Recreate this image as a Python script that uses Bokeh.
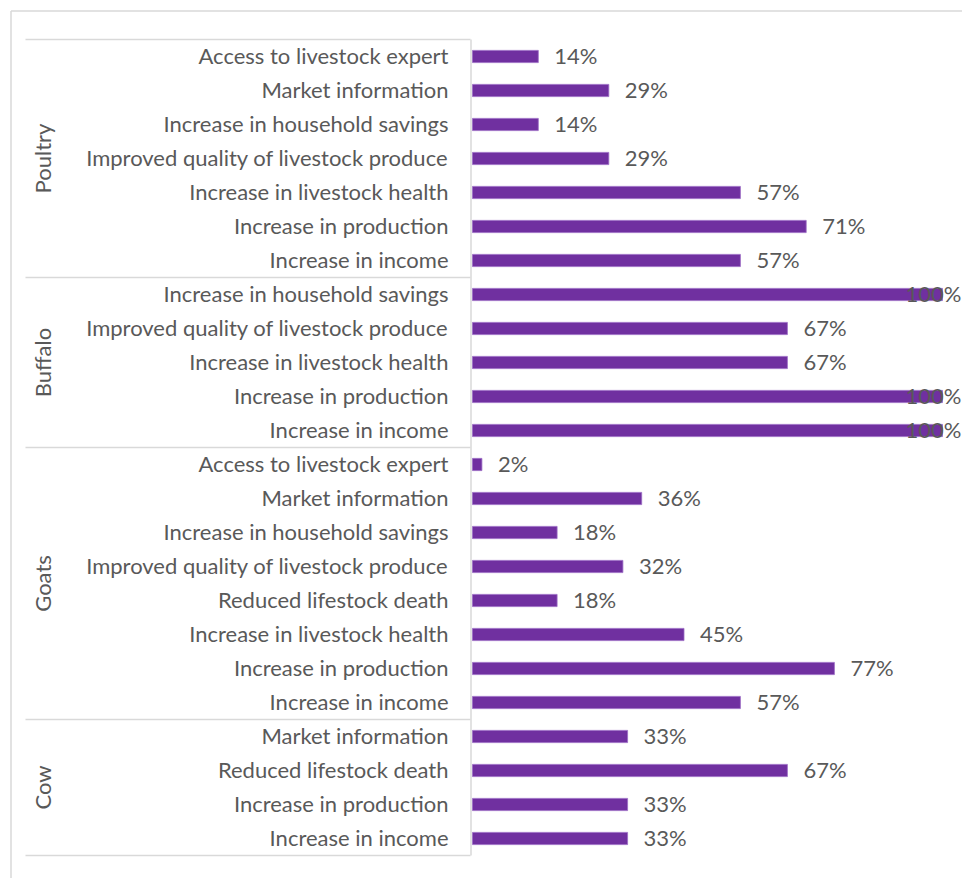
from bokeh.plotting import figure
from bokeh.models import Range1d, ColumnDataSource
from bokeh.core.properties import value
from bokeh.embed import file_html
from bokeh.resources import INLINE

# ---- data (top to bottom as in the chart) ----
groups = ["Poultry", "Buffalo", "Goats", "Cow"]
poultry_items = ["Access to livestock expert", "Market information", "Increase in household savings",
                 "Improved quality of livestock produce", "Increase in livestock health",
                 "Increase in production", "Increase in income"]
poultry_vals = [14, 29, 14, 29, 57, 71, 57]
buffalo_items = ["Increase in household savings", "Improved quality of livestock produce",
                 "Increase in livestock health", "Increase in production", "Increase in income"]
buffalo_vals = [100, 67, 67, 100, 100]
goats_items = ["Access to livestock expert", "Market information", "Increase in household savings",
               "Improved quality of livestock produce", "Reduced lifestock death",
               "Increase in livestock health", "Increase in production", "Increase in income"]
goats_vals = [2, 36, 18, 32, 18, 45, 77, 57]
cow_items = ["Market information", "Reduced lifestock death", "Increase in production", "Increase in income"]
cow_vals = [33, 67, 33, 33]

group_items = [poultry_items, buffalo_items, goats_items, cow_items]
group_vals = [poultry_vals, buffalo_vals, goats_vals, cow_vals]

# ---- layout constants (pixels) ----
W, H = 962, 878
X0_PX, X100_PX = 472, 942          # bar start / 100% end
ROW0_PX, ROW_STEP = 838, 34        # centre of the bottom row, row spacing
PPU = (X100_PX - X0_PX) / 100.0

def px_x(px):
    return (px - X0_PX) / PPU

def px_y(py):
    return (ROW0_PX - py) / ROW_STEP

PURPLE = "#7030A0"
GRID = "#D9D9D9"
TXT = "#595959"
FONT = "Lato"
FS = "22px"

# build rows bottom-to-top (row index 0 = bottom)
labels, vals, ys = [], [], []
group_spans = []
n_total = sum(len(g) for g in group_items)
idx = n_total - 1
for gname, items, vv in zip(groups, group_items, group_vals):
    top = idx
    for it, v in zip(items, vv):
        labels.append(it)
        vals.append(v)
        ys.append(idx)
        idx -= 1
    group_spans.append((gname, idx + 1, top))

p = figure(width=W, height=H, output_backend="svg", toolbar_location=None,
           x_range=Range1d(px_x(0), px_x(W)), y_range=Range1d(px_y(H), px_y(0)),
           min_border=0)
p.axis.visible = False
p.grid.visible = False
p.outline_line_color = None
p.background_fill_color = "white"

# outer chart border (left and top)
p.segment(x0=[px_x(10.5), px_x(10.5)], y0=[px_y(10.5), px_y(10.5)],
          x1=[px_x(10.5), px_x(W + 5)], y1=[px_y(H + 5), px_y(10.5)],
          line_color=GRID, line_width=1.5)

# category axis separators
sep_y = [top + 0.5 for (_, bot, top) in group_spans] + [group_spans[-1][1] - 0.5]
p.segment(x0=[px_x(25)] * len(sep_y), x1=[px_x(470)] * len(sep_y), y0=sep_y, y1=sep_y,
          line_color=GRID, line_width=1.5)
p.segment(x0=[px_x(470.5)], x1=[px_x(470.5)], y0=[max(sep_y)], y1=[min(sep_y)],
          line_color=GRID, line_width=1.5)

src = ColumnDataSource(dict(y=ys, v=vals, lab=labels))

p.hbar(y="y", left=0, right="v", height=0.36, source=src,
       fill_color=PURPLE, line_color="#9B6BC4", line_width=0.8)

p.text(x=0, y="y", text="lab", source=src, x_offset=-24, y_offset=-1, text_align="right",
       text_baseline="middle", text_font=value(FONT), text_font_size=FS, text_color=TXT)

# value labels: outside the bar, or pulled back inside the edge for full bars
out_src = ColumnDataSource(dict(y=[y for y, v in zip(ys, vals) if v < 100],
                                v=[v for v in vals if v < 100],
                                txt=[f"{v}%" for v in vals if v < 100]))
in_src = ColumnDataSource(dict(y=[y for y, v in zip(ys, vals) if v >= 100],
                               v=[v for v in vals if v >= 100],
                               txt=[f"{v}%" for v in vals if v >= 100]))
p.text(x="v", y="y", text="txt", source=out_src, x_offset=16, y_offset=-1, text_align="left",
       text_baseline="middle", text_font=value(FONT), text_font_size=FS, text_color=TXT)
p.text(x="v", y="y", text="txt", source=in_src, x_offset=19, y_offset=-1, text_align="right",
       text_baseline="middle", text_font=value(FONT), text_font_size=FS, text_color=TXT)

gsrc = ColumnDataSource(dict(g=[g for (g, _, _) in group_spans],
                             y=[(b + t) / 2 for (_, b, t) in group_spans]))
p.text(x=px_x(42), y="y", text="g", source=gsrc, angle=1.5708, text_align="center",
       text_baseline="middle", text_font=value(FONT), text_font_size=FS, text_color=TXT)

open("out.html", "w").write(file_html(p, INLINE))
